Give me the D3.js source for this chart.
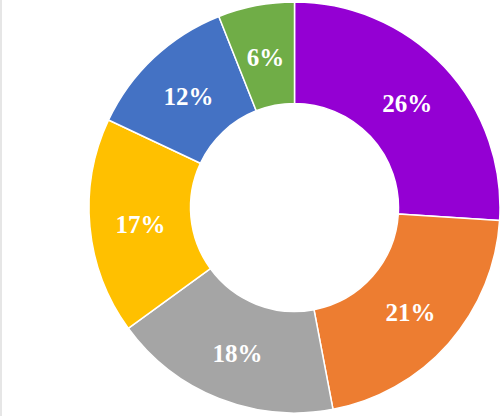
<!DOCTYPE html>
<html>
<head>
<meta charset="utf-8">
<script src="https://cdn.jsdelivr.net/npm/d3@7"></script>
<style>
  html, body { margin: 0; padding: 0; background: #fff; }
  svg { display: block; }
  .lbl { font-family: "Times New Roman", Times, "Liberation Serif", serif; font-weight: 700; font-size: 25px; }
</style>
</head>
<body>
<script>
const categories = ["A", "B", "C", "D", "E", "F"];
const values = [26, 21, 18, 17, 12, 6];
const labels = ["26%", "21%", "18%", "17%", "12%", "6%"];
const colors = ["#9400D3", "#ED7D31", "#A5A5A5", "#FFC000", "#4472C4", "#70AD47"];

const W = 502, H = 416;
const cx = 294.5, cy = 207.5;
const outerR = 205.5, innerR = 104;

const svg = d3.select("body").append("svg").attr("width", W).attr("height", H);

svg.append("line")
  .attr("x1", 1).attr("x2", 1).attr("y1", 0).attr("y2", H)
  .attr("stroke", "#d6d6d6").attr("stroke-width", 1.2);

const color = d3.scaleOrdinal().domain(categories).range(colors);

const pie = d3.pie().sort(null).value(d => d.v);
const data = categories.map((c, i) => ({ c, v: values[i], label: labels[i] }));
const arcs = pie(data);

const arc = d3.arc().innerRadius(innerR).outerRadius(outerR);
const labelArc = d3.arc().innerRadius((innerR + outerR) / 2).outerRadius((innerR + outerR) / 2);

const g = svg.append("g").attr("transform", `translate(${cx},${cy})`);

g.selectAll("path").data(arcs).join("path")
  .attr("d", arc)
  .attr("fill", d => color(d.data.c))
  .attr("stroke", "#fff")
  .attr("stroke-width", 1.5)
  .attr("stroke-linejoin", "round");

g.selectAll("text").data(arcs).join("text")
  .attr("class", "lbl")
  .attr("transform", d => { const [x, y] = labelArc.centroid(d); return `translate(${x},${y + 2})`; })
  .attr("text-anchor", "middle")
  .attr("dy", "0.35em")
  .attr("fill", "#fff")
  .text(d => d.data.label);
</script>
</body>
</html>
